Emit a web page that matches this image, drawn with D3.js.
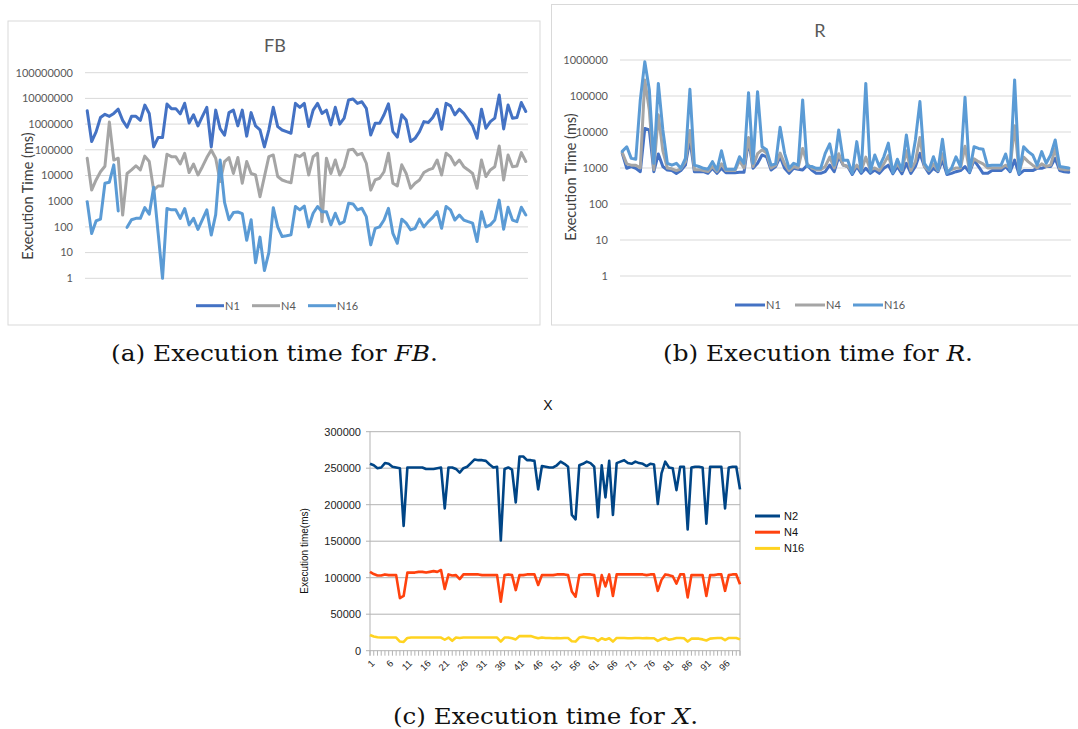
<!DOCTYPE html>
<html><head><meta charset="utf-8">
<script src="https://cdn.jsdelivr.net/npm/d3@7"></script>
<style>body{margin:0;background:#fff} svg{display:block}</style>
</head><body>
<svg id="fig" width="1078" height="729"></svg>
<script>
// ---------- DATA ----------
const runs = d3.range(1, 101);

// (a) FB execution times (ms)
const fbN1 = [3300000,210000,500000,1800000,2400000,2000000,2600000,3800000,1400000,750000,2000000,2000000,1400000,5500000,2600000,130000,300000,300000,6000000,4000000,4000000,2500000,6500000,1100000,2300000,850000,2000000,4500000,130000,3500000,670000,370000,2800000,3500000,850000,3500000,340000,2800000,850000,600000,130000,600000,4500000,800000,590000,510000,440000,6400000,4500000,6400000,800000,3500000,6400000,2600000,3500000,930000,4500000,1000000,1700000,8700000,9500000,6400000,7400000,4100000,380000,1070000,1070000,2300000,6100000,510000,310000,2300000,1450000,210000,280000,510000,1250000,1150000,1800000,3800000,630000,6400000,5100000,2300000,3800000,2600000,1500000,850000,280000,3800000,690000,1250000,1700000,13500000,650000,5500000,1700000,1800000,6900000,3100000];
const fbN4 = [47000,2700,6700,14000,23000,1200000,40000,47000,290,12000,16500,24000,16500,57000,35000,2700,3900,3900,67000,54000,54000,28000,73000,13000,28000,10500,22000,50000,98000,47000,5800,35000,50000,12000,50000,5000,35000,12000,10500,1500,9100,54000,63000,9100,6700,5800,5200,63000,54000,73000,10500,54000,73000,160,47000,12000,40000,10500,22000,99000,105000,63000,73000,30000,2700,6700,7800,14000,73000,5000,3900,26000,12000,3200,5000,6700,13000,16500,19000,40000,10500,73000,54000,26000,40000,22000,16500,12000,3200,40000,9100,16500,22000,141000,6700,63000,22000,23500,78000,35000];
const fbN16 = [960,55,170,200,5000,5500,26000,420,null,96,190,215,215,560,310,3500,60,1,520,460,460,215,520,120,215,80,190,460,48,300,40000,900,190,360,380,330,30,190,4,40,2,10,560,100,42,45,49,620,460,650,100,340,620,390,390,120,340,130,160,830,780,460,530,250,20,88,100,185,530,56,23,200,140,76,88,200,100,160,235,390,88,620,460,185,290,185,160,140,27,390,100,120,185,1100,81,580,185,160,580,290];
const fbTicks = [1,10,100,1000,10000,100000,1000000,10000000,100000000];

// (b) R execution times (ms)
const rN1 = [2550,980,1100,980,790,12600,11400,790,2450,1100,880,850,710,850,1200,6300,790,790,790,710,980,710,980,740,740,740,760,760,6000,980,1350,2300,2050,880,1100,2050,980,710,980,920,880,1200,880,710,710,790,1200,790,2050,1200,1100,660,1100,710,980,710,880,710,980,1200,690,1100,690,1350,710,1100,2550,1100,710,980,790,1650,660,710,790,850,1100,740,1650,1100,710,710,850,850,850,1100,790,1650,660,850,850,850,980,980,1100,1100,1850,850,790,760];
const rN4 = [2700,1300,1200,1200,1000,280000,40000,900,30000,3000,1000,950,850,950,1500,11000,900,900,850,800,1100,800,1300,850,850,850,1600,1000,7000,1100,2500,3200,2600,1000,1200,2600,1300,850,1100,1000,3500,1300,1000,900,900,1100,2000,1000,2500,1200,1100,800,1200,850,2000,900,1000,850,1300,2200,850,1300,850,3000,850,1500,7000,1100,850,1300,850,2500,800,900,1000,1000,4000,850,1800,1500,1300,1000,1000,1000,1000,1200,1000,15000,800,2000,1500,1200,1000,1300,1100,1200,3500,950,900,900];
const rN16 = [2900,3900,1850,1750,78000,900000,150000,1350,224000,11400,1350,1200,1350,980,1850,154000,1200,1100,980,920,1500,880,3000,920,920,920,2050,1350,124000,1350,132000,3900,3200,1200,1300,13500,2550,980,1350,1200,78000,1100,1100,980,980,2550,4700,1200,11400,1650,1650,710,5400,790,224000,790,2300,1100,2050,4900,740,1750,880,8300,1100,6000,70000,1350,880,2050,880,6300,710,980,2050,1100,92000,790,3900,3500,3300,1150,1200,1200,1200,2450,850,280000,710,3900,2850,2300,1200,2850,1350,2300,6000,1100,1050,1000];
const rTicks = [1,10,100,1000,10000,100000,1000000];

// (c) X execution times (ms)
const xN2 = [256000,254000,250000,251000,257000,256000,252000,251000,250000,171000,251000,251000,251000,251000,251000,249000,249000,249000,250000,251000,195000,251000,251000,249000,244000,250000,252000,257000,262000,261000,261000,260000,255000,251000,252000,151000,249000,251000,248000,203000,266000,266000,261000,261000,260000,221000,253000,252000,251000,251000,254000,259000,256000,252000,186000,180000,254000,256000,259000,257000,252000,183000,254000,210000,260000,186000,257000,259000,261000,257000,256000,259000,257000,256000,253000,256000,255000,201000,243000,259000,251000,250000,220000,252000,252000,166000,251000,252000,252000,251000,174000,252000,252000,252000,252000,195000,251000,252000,252000,221000];
const xN4 = [108000,105000,103000,103000,104500,103500,103500,103500,72000,75000,107000,107000,107000,108000,108000,107000,108000,109000,108000,110500,84500,104500,103000,103500,98000,104500,104500,104500,104500,104500,103500,103500,103500,103500,103500,67000,103500,104500,103500,83000,103500,103500,104500,104500,104500,90000,103500,103500,103500,103500,104500,104500,104500,103500,81000,74000,103500,104500,104500,104500,103500,75000,103500,88000,104500,75000,104500,104500,104500,104500,104500,104500,104500,104500,103500,104500,104500,82000,97000,104500,103500,102000,92000,104500,104500,73000,103500,103500,103500,103500,75000,103500,103500,104500,104500,82000,103500,104500,104500,91000];
const xN16 = [21500,19500,18500,18000,18000,18000,18000,18000,12500,12000,17500,18000,18000,18000,18000,18000,18000,18000,18000,18000,15000,18000,13500,18000,17500,18000,18000,18000,18000,18000,18000,18000,18000,18000,18000,12500,18000,18000,17000,15500,20000,20000,20000,20000,18500,17000,18000,17500,17500,17000,17500,17000,17500,17500,13000,12500,18000,19000,18000,17000,17000,13500,17000,15000,17000,12500,17500,17500,17500,17000,17000,17500,17500,17000,17500,17000,17000,13500,16000,17500,15000,16000,17500,17500,17000,12500,16500,16500,16500,15500,14000,16500,17000,17500,17500,14500,17500,17500,17500,15500];
const xTicks = [0,50000,100000,150000,200000,250000,300000];
const xCatLabels = ["1","6","11","16","21","26","31","36","41","46","51","56","61","66","71","76","81","86","91","96"];

// ---------- DRAWING ----------
const svg = d3.select("#fig");
svg.append("rect").attr("width",1078).attr("height",729).attr("fill","#fff");

function logChart(o){
  const g = svg.append("g");
  g.append("rect").attr("x",o.box[0]).attr("y",o.box[1]).attr("width",o.box[2]).attr("height",o.box[3])
    .attr("fill","#fff").attr("stroke","#d9d9d9").attr("stroke-width",1);
  const x = d3.scalePoint().domain(runs).range([o.px0,o.px1]).padding(0.5);
  const y = d3.scaleLog().domain([1,o.ticks[o.ticks.length-1]]).range([o.pyB,o.pyT]);
  g.selectAll(".grid").data(o.ticks).join("line")
    .attr("x1",o.px0).attr("x2",o.px1).attr("y1",d=>y(d)).attr("y2",d=>y(d))
    .attr("stroke","#d9d9d9").attr("stroke-width",1);
  g.selectAll(".tl").data(o.ticks).join("text")
    .attr("x",o.labelX).attr("y",d=>y(d)).attr("dy","0.35em").attr("text-anchor","end")
    .attr("font-family","Lato, Carlito, sans-serif").attr("font-size",11).attr("fill","#595959")
    .text(d=>d3.format("d")(d));
  g.append("text").attr("x",o.titleX).attr("y",o.titleY).attr("text-anchor","middle")
    .attr("font-family","Lato, sans-serif").attr("font-size",18).attr("fill","#595959").text(o.title);
  g.append("text").attr("transform",`translate(${o.ytX},${o.ytY}) rotate(-90)`).attr("text-anchor","middle")
    .attr("font-family","Lato, sans-serif").attr("font-size",14.5).attr("fill","#404040").text("Execution Time (ms)");
  const line = d3.line().defined(d=>d.v!=null).x(d=>x(d.r)).y(d=>y(d.v));
  o.series.forEach(s=>{
    g.append("path").datum(runs.map((r,i)=>({r,v:s.values[i]})))
      .attr("d",line).attr("fill","none").attr("stroke",s.color).attr("stroke-width",3)
      .attr("stroke-linejoin","round").attr("stroke-linecap","round");
  });
  o.series.forEach((s,i)=>{
    const lx = o.legX[i];
    g.append("line").attr("x1",lx).attr("x2",lx+o.legLen).attr("y1",o.legY).attr("y2",o.legY)
      .attr("stroke",s.color).attr("stroke-width",3);
    g.append("text").attr("x",lx+o.legLen+1).attr("y",o.legY).attr("dy","0.35em")
      .attr("font-family","Lato, sans-serif").attr("font-size",11).attr("fill","#595959").text(s.name);
  });
}

logChart({box:[8,21,532,304], px0:85, px1:528, pyT:72.7, pyB:278.3, ticks:fbTicks, labelX:73,
  title:"FB", titleX:275, titleY:51.5, ytX:33, ytY:196,
  legY:305.7, legX:[196,252,308], legLen:28,
  series:[{name:"N1",values:fbN1,color:"#4472c4"},{name:"N4",values:fbN4,color:"#a5a5a5"},{name:"N16",values:fbN16,color:"#5b9bd5"}]});

logChart({box:[551.5,4.5,530,320.5], px0:620, px1:1071, pyT:60, pyB:276, ticks:rTicks, labelX:608,
  title:"R", titleX:820, titleY:36.5, ytX:576, ytY:177,
  legY:305, legX:[735,795,853], legLen:30,
  series:[{name:"N1",values:rN1,color:"#4472c4"},{name:"N4",values:rN4,color:"#a5a5a5"},{name:"N16",values:rN16,color:"#5b9bd5"}]});

// (c) linear chart
(function(){
  const g = svg.append("g");
  const x0=370, x1=740, yT=431.7, yB=650.7;
  const x = d3.scalePoint().domain(runs).range([x0,x1]).padding(0);
  const y = d3.scaleLinear().domain([0,300000]).range([yB,yT]);
  const ff = "'Liberation Sans', Arial, sans-serif";
  g.selectAll(".grid").data(xTicks).join("line")
    .attr("x1",x0-4).attr("x2",x1).attr("y1",d=>y(d)).attr("y2",d=>y(d))
    .attr("stroke","#b3b3b3").attr("stroke-width",1);
  g.append("line").attr("x1",x0).attr("x2",x0).attr("y1",yT).attr("y2",yB+5).attr("stroke","#b3b3b3");
  g.append("line").attr("x1",x1).attr("x2",x1).attr("y1",yT).attr("y2",yB+5).attr("stroke","#b3b3b3");
  g.selectAll(".xt").data(runs).join("line")
    .attr("x1",d=>x(d)).attr("x2",d=>x(d)).attr("y1",yB).attr("y2",yB+5).attr("stroke","#b3b3b3");
  g.selectAll(".yl").data(xTicks).join("text")
    .attr("x",x0-9).attr("y",d=>y(d)).attr("dy","0.35em").attr("text-anchor","end")
    .attr("font-family",ff).attr("font-size",11).attr("fill","#222").text(d=>d);
  g.selectAll(".xl").data(xCatLabels).join("text")
    .attr("transform",d=>`translate(${x(+d)+3},${yB+11}) rotate(-45)`).attr("text-anchor","end")
    .attr("dy","0.35em").attr("font-family",ff).attr("font-size",9.5).attr("fill","#222").text(d=>d);
  g.append("text").attr("x",548).attr("y",410).attr("text-anchor","middle")
    .attr("font-family",ff).attr("font-size",14).attr("fill","#111").text("X");
  g.append("text").attr("transform","translate(308,551) rotate(-90)").attr("text-anchor","middle")
    .attr("font-family",ff).attr("font-size",10).attr("fill","#111").text("Execution time(ms)");
  const series=[{name:"N2",values:xN2,color:"#004586"},{name:"N4",values:xN4,color:"#ff420e"},{name:"N16",values:xN16,color:"#ffd320"}];
  const line = d3.line().x(d=>x(d.r)).y(d=>y(d.v));
  series.forEach(s=>{
    g.append("path").datum(runs.map((r,i)=>({r,v:s.values[i]}))).attr("d",line)
      .attr("fill","none").attr("stroke",s.color).attr("stroke-width",2.6).attr("stroke-linejoin","round");
  });
  series.forEach((s,i)=>{
    const ly = 516 + i*16.2;
    g.append("line").attr("x1",755).attr("x2",780).attr("y1",ly).attr("y2",ly).attr("stroke",s.color).attr("stroke-width",3);
    g.append("text").attr("x",784).attr("y",ly).attr("dy","0.35em").attr("font-family",ff).attr("font-size",11)
      .attr("fill","#111").text(s.name);
  });
})();

// captions
const captions = [
  {pre:"(a) Execution time for ", it:"FB", post:".", x:111, y:361, w:327},
  {pre:"(b) Execution time for ", it:"R", post:".", x:663, y:361, w:310},
  {pre:"(c) Execution time for ", it:"X", post:".", x:393, y:724, w:305}
];
captions.forEach(c=>{
  const t = svg.append("text").attr("x",c.x).attr("y",c.y)
    .attr("font-family","'DejaVu Serif', serif").attr("font-size",21.5).attr("fill","#111")
    .attr("textLength",c.w).attr("lengthAdjust","spacingAndGlyphs");
  t.append("tspan").text(c.pre);
  t.append("tspan").attr("font-style","italic").text(c.it);
  t.append("tspan").text(c.post);
});
</script>
</body></html>
